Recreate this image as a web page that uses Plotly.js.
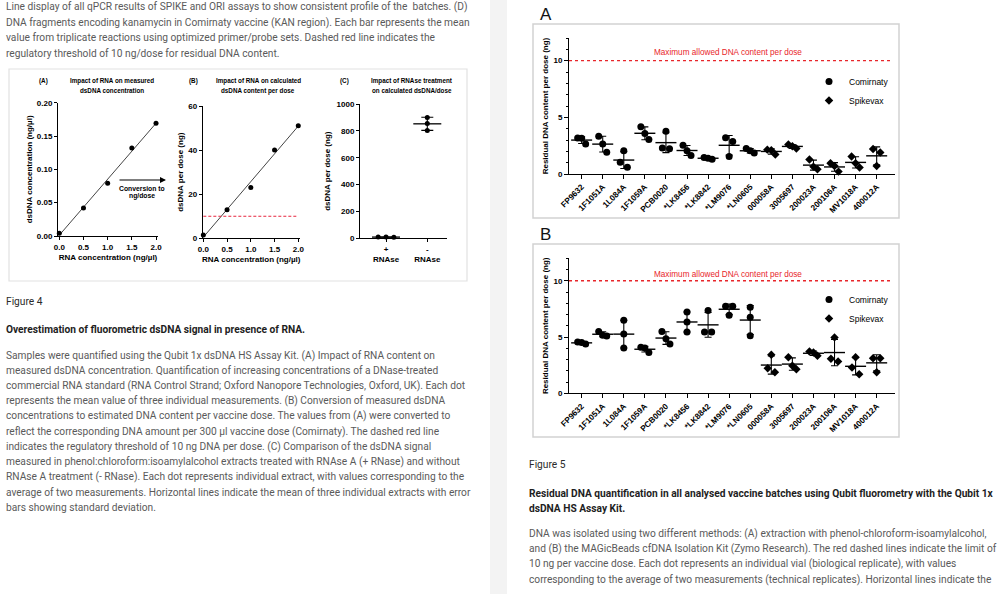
<!DOCTYPE html>
<html><head><meta charset="utf-8">
<script src="https://cdn.plot.ly/plotly-3.0.1.min.js"></script>
<style>html,body{margin:0;padding:0;background:#fff}#chart{width:1000px;height:594px}</style>
</head><body><div id="chart"></div>
<script>
// ---------------- data ----------------
const rnaConc = [0, 0.5, 1.0, 1.5, 2.0];
const dsdnaMeasured = [0.004, 0.042, 0.079, 0.132, 0.169];
const dsdnaPerDose = [1.5, 13, 23, 40, 51];
const rnaseLabels = ['+<br>RNAse', '-<br>RNAse'];
const rnasePlus = [9, 10, 8];
const rnaseMinus = [900, 855, 802];
const thresholdNg = 10;

const batches = ['FP9632','1F1051A','1L084A','1F1059A','PCB0020','*LK8456','*LK8842','*LM9076','*LN0605','000058A','3005697','200023A','200106A','MV1018A','400012A'];
const vaccine = ['Comirnaty','Comirnaty','Comirnaty','Comirnaty','Comirnaty','Comirnaty','Comirnaty','Comirnaty','Comirnaty','Spikevax','Spikevax','Spikevax','Spikevax','Spikevax','Spikevax'];
const residualA = [
  [3.18, 3.15, 2.65], [3.33, 2.65, 1.93], [2.05, 1.04, 0.60], [4.17, 3.57, 3.04], [3.78, 2.29, 2.23],
  [2.53, 2.05, 1.64], [1.46, 1.40, 1.31], [3.19, 2.86, 1.55], [2.25, 2.05, 1.85], [2.15, 2.10, 1.72],
  [2.60, 2.45, 2.25], [1.28, 0.65, 0.42], [0.95, 0.71, 0.21], [1.55, 0.95, 0.57], [2.20, 1.90, 0.71]
];
const residualB = [
  [4.55, 4.52, 4.38], [5.50, 5.15, 5.10], [6.49, 5.27, 4.02], [4.10, 4.02, 3.63], [5.50, 4.85, 4.38],
  [7.23, 6.34, 5.45], [7.35, 5.45, 5.45], [7.74, 7.74, 6.93], [7.65, 6.76, 5.12], [3.42, 2.23, 1.88],
  [3.21, 2.44, 2.14], [3.72, 3.63, 3.33], [4.97, 3.07, 2.83], [3.21, 2.29, 1.70], [3.12, 3.12, 1.88]
];

const textTop = [
  'Line display of all qPCR results of SPIKE and ORI assays to show consistent profile of the  batches. (D)',
  'DNA fragments encoding kanamycin in Comirnaty vaccine (KAN region). Each bar represents the mean',
  'value from triplicate reactions using optimized primer/probe sets. Dashed red line indicates the',
  'regulatory threshold of 10 ng/dose for residual DNA content.'
];
const fig4Label = 'Figure 4';
const fig4Title = 'Overestimation of fluorometric dsDNA signal in presence of RNA.';
const fig4Text = [
  'Samples were quantified using the Qubit 1x dsDNA HS Assay Kit. (A) Impact of RNA content on',
  'measured dsDNA concentration. Quantification of increasing concentrations of a DNase-treated',
  'commercial RNA standard (RNA Control Strand; Oxford Nanopore Technologies, Oxford, UK). Each dot',
  'represents the mean value of three individual measurements. (B) Conversion of measured dsDNA',
  'concentrations to estimated DNA content per vaccine dose. The values from (A) were converted to',
  'reflect the corresponding DNA amount per 300 µl vaccine dose (Comirnaty). The dashed red line',
  'indicates the regulatory threshold of 10 ng DNA per dose. (C) Comparison of the dsDNA signal',
  'measured in phenol:chloroform:isoamylalcohol extracts treated with RNAse A (+ RNase) and without',
  'RNAse A treatment (- RNase). Each dot represents individual extract, with values corresponding to the',
  'average of two measurements. Horizontal lines indicate the mean of three individual extracts with error',
  'bars showing standard deviation.'
];
const fig5Label = 'Figure 5';
const fig5Title = [
  'Residual DNA quantification in all analysed vaccine batches using Qubit fluorometry with the Qubit 1x',
  'dsDNA HS Assay Kit.'
];
const fig5Text = [
  'DNA was isolated using two different methods: (A) extraction with phenol-chloroform-isoamylalcohol,',
  'and (B) the MAGicBeads cfDNA Isolation Kit (Zymo Research). The red dashed lines indicate the limit of',
  '10 ng per vaccine dose. Each dot represents an individual vial (biological replicate), with values',
  'corresponding to the average of two measurements (technical replicates). Horizontal lines indicate the'
];

// ---------------- helpers ----------------
const AR = 'Liberation Sans, Arial, sans-serif';
const RB = 'Roboto, sans-serif';
const W = 1000, H = 594;
const px = x => x / W, py = y => 1 - y / H;
const mean = a => a.reduce((s, v) => s + v, 0) / a.length;
const sd = a => { const m = mean(a); return Math.sqrt(a.reduce((s, v) => s + (v - m) * (v - m), 0) / (a.length - 1)); };

// Prism-like horizontal spreading of overlapping points
function rowSpread(vals, thr, step2, step3) {
  const idx = vals.map((v, i) => i).sort((a, b) => vals[b] - vals[a]);
  const rows = []; let cur = [];
  idx.forEach((i, k) => {
    if (k > 0 && vals[idx[k - 1]] - vals[i] >= thr) { rows.push(cur); cur = []; }
    cur.push(i);
  });
  rows.push(cur);
  const off = new Array(vals.length).fill(0);
  rows.forEach(r => { const n = r.length; const s = n === 2 ? step2 : step3; r.forEach((i, k) => { off[i] = (k - (n - 1) / 2) * s; }); });
  return off;
}
function linFit(xs, ys) {
  const mx = mean(xs), my = mean(ys);
  let num = 0, den = 0;
  xs.forEach((x, i) => { num += (x - mx) * (ys[i] - my); den += (x - mx) * (x - mx); });
  const b = num / den; return { b, a: my - b * mx };
}

const tickF = s => ({ family: AR, size: s, color: '#000', weight: 'bold' });
function axis(o) {
  return Object.assign({ showgrid: false, zeroline: false, showline: true, linecolor: '#000', linewidth: 1,
    ticks: 'outside', ticklen: 3, tickwidth: 1, tickcolor: '#000', tickfont: tickF(8), fixedrange: true, automargin: false }, o);
}

// ---------------- traces ----------------
const traces = [];
const dot = (sz) => ({ symbol: 'circle', size: sz, color: '#000' });

// Panel A
const fitA = linFit(rnaConc, dsdnaMeasured);
const xEnds = [rnaConc[0], rnaConc[rnaConc.length - 1]];
traces.push({ type: 'scatter', mode: 'lines', x: xEnds, y: xEnds.map(x => fitA.a + fitA.b * x), xaxis: 'x', yaxis: 'y', line: { color: '#444', width: 1 }, showlegend: false, cliponaxis: false });
traces.push({ type: 'scatter', mode: 'markers', x: rnaConc, y: dsdnaMeasured, xaxis: 'x', yaxis: 'y', marker: dot(5), showlegend: false, cliponaxis: false });
// Panel B
const fitB = linFit(rnaConc, dsdnaPerDose);
traces.push({ type: 'scatter', mode: 'lines', x: xEnds, y: xEnds.map(x => fitB.a + fitB.b * x), xaxis: 'x2', yaxis: 'y2', line: { color: '#444', width: 1 }, showlegend: false, cliponaxis: false });
traces.push({ type: 'scatter', mode: 'markers', x: rnaConc, y: dsdnaPerDose, xaxis: 'x2', yaxis: 'y2', marker: dot(5), showlegend: false, cliponaxis: false });
// Panel C
const rnaseGroups = [rnasePlus, rnaseMinus];
const cx = [], cy = [];
rnaseGroups.forEach((g, gi) => { const off = rowSpread(g, 40, 0.34, 0.19); g.forEach((v, k) => { cx.push(gi + off[k]); cy.push(v); }); });
traces.push({ type: 'scatter', mode: 'markers', x: cx, y: cy, xaxis: 'x3', yaxis: 'y3', marker: dot(5), showlegend: false, cliponaxis: false });
traces.push({ type: 'scatter', mode: 'markers', x: [0, 1], y: rnaseGroups.map(mean), xaxis: 'x3', yaxis: 'y3', showlegend: false, cliponaxis: false,
  marker: { symbol: 'line-ew', size: 20, line: { width: 1.3, color: '#000' } },
  error_y: { type: 'data', array: rnaseGroups.map(sd), visible: true, width: 6, thickness: 1.1, color: '#000' } });

// Right charts
function residualTraces(groups, xa, ya, legendId) {
  ['Comirnaty', 'Spikevax'].forEach((vname, vi) => {
    const xs = [], ys = [];
    groups.forEach((g, gi) => {
      if (vaccine[gi] !== vname) return;
      const off = rowSpread(g, 0.8, 0.34, 0.19);
      g.forEach((v, k) => { xs.push(gi + off[k]); ys.push(v); });
    });
    traces.push({ type: 'scatter', mode: 'markers', name: vname, x: xs, y: ys, xaxis: xa, yaxis: ya, legend: legendId,
      showlegend: true, cliponaxis: false, marker: { symbol: vi ? 'diamond' : 'circle', size: vi ? 6.5 : 7, color: '#000' } });
  });
  traces.push({ type: 'scatter', mode: 'markers', x: batches.map((b, i) => i), y: groups.map(mean), xaxis: xa, yaxis: ya,
    showlegend: false, cliponaxis: false,
    marker: { symbol: 'line-ew', size: 15, line: { width: 1.4, color: '#000' } },
    error_y: { type: 'data', array: groups.map(sd), visible: true, width: 3.5, thickness: 1.1, color: '#000' } });
}
residualTraces(residualA, 'x4', 'y4', 'legend');
residualTraces(residualB, 'x5', 'y5', 'legend2');

// ---------------- annotations ----------------
const ann = [];
function txt(x, y, text, o) {
  ann.push(Object.assign({ xref: 'paper', yref: 'paper', x: px(x), y: py(y), text, showarrow: false,
    xanchor: 'left', yanchor: 'middle', font: { family: RB, size: 10.2, color: '#5a5a5a' } }, o || {}));
}
textTop.forEach((t, i) => txt(4, 7.3 + i * 15.3, t));
txt(4, 301, fig4Label, { font: { family: RB, size: 10.2, color: '#2a2a2a' } });
txt(4, 329, '<b>' + fig4Title + '</b>', { font: { family: RB, size: 10.2, color: '#1e1e1e' } });
fig4Text.forEach((t, i) => txt(4, 355.7 + i * 15.2, t));
txt(527, 464, fig5Label, { font: { family: RB, size: 10.2, color: '#2a2a2a' } });
fig5Title.forEach((t, i) => txt(527, 493 + i * 15.2, '<b>' + t + '</b>', { font: { family: RB, size: 10.2, color: '#1e1e1e' } }));
fig5Text.forEach((t, i) => txt(527, 534 + i * 15.2, t));

const pf = { family: AR, size: 6.3, color: '#000' };
const c = { xanchor: 'center', font: pf };
txt(43, 81, '<b>(A)</b>', c);
txt(112, 81, '<b>Impact of RNA on measured</b>', c);
txt(112, 90.5, '<b>dsDNA concentration</b>', c);
txt(193.5, 81, '<b>(B)</b>', c);
txt(258, 81, '<b>Impact of RNA on calculated</b>', c);
txt(258, 90.5, '<b>dsDNA content per dose</b>', c);
txt(344, 81, '<b>(C)</b>', c);
txt(411.7, 81, '<b>Impact of RNAse treatment</b>', c);
txt(411.7, 90.5, '<b>on calculated dsDNA/dose</b>', c);
txt(142, 188, '<b>Conversion to</b>', { xanchor: 'center', font: { family: AR, size: 6.8, color: '#000' } });
txt(142, 196, '<b>ng/dose</b>', { xanchor: 'center', font: { family: AR, size: 6.8, color: '#000' } });
ann.push({ xref: 'paper', yref: 'paper', x: px(166), y: py(180), ax: -48, ay: 0, text: '', showarrow: true,
  arrowhead: 2, arrowsize: 1, arrowwidth: 1.2, arrowcolor: '#000' });

const redF = { family: AR, size: 8.2, color: '#e8262b' };
txt(728, 53, 'Maximum allowed DNA content per dose', { xanchor: 'center', font: redF });
txt(728, 274, 'Maximum allowed DNA content per dose', { xanchor: 'center', font: redF });
txt(538, 14, 'A', { font: { family: AR, size: 17, color: '#111' } });
txt(538, 234, 'B', { font: { family: AR, size: 17, color: '#111' } });

// ---------------- shapes ----------------
const shapes = [
  { type: 'rect', xref: 'paper', yref: 'paper', x0: px(490), x1: px(507), y0: 0, y1: 1, fillcolor: '#f3f3f3', line: { width: 0 }, layer: 'below' },
  { type: 'rect', xref: 'paper', yref: 'paper', x0: px(9), x1: px(467), y0: py(281), y1: py(69), line: { color: '#e2e2e2', width: 1.2 } },
  { type: 'rect', xref: 'paper', yref: 'paper', x0: px(533), x1: px(899), y0: py(218), y1: py(24), line: { color: '#d2d2d2', width: 1.5 } },
  { type: 'rect', xref: 'paper', yref: 'paper', x0: px(533), x1: px(899), y0: py(437), y1: py(244), line: { color: '#d2d2d2', width: 1.5 } },
  { type: 'line', xref: 'x2', yref: 'y2', x0: xEnds[0], x1: xEnds[1], y0: thresholdNg, y1: thresholdNg, line: { color: '#e8263f', width: 1.2, dash: '3px,2px' } },
  { type: 'line', xref: 'x4 domain', yref: 'y4', x0: 0, x1: 0.99, y0: thresholdNg, y1: thresholdNg, line: { color: '#e8262b', width: 1.4, dash: '3px,3px' } },
  { type: 'line', xref: 'x5 domain', yref: 'y5', x0: 0, x1: 0.99, y0: thresholdNg, y1: thresholdNg, line: { color: '#e8262b', width: 1.4, dash: '3px,3px' } }
];

const axTitle = (t, s, so) => ({ text: t, font: { family: AR, size: s, color: '#000', weight: 'bold' }, standoff: so });
const rightY = (top, bot) => axis({ domain: [py(bot), py(top)], range: [0, 12], tickmode: 'linear', tick0: 0, dtick: 5, ticklen: 4,
  tickfont: tickF(8), minor: { dtick: 1, ticks: 'outside', ticklen: 2.5, tickwidth: 1, tickcolor: '#000' },
  title: axTitle('Residual DNA content per dose (ng)', 8, 3) });
const rightX = () => axis({ domain: [px(569), px(895)], range: [-0.6, 14.87], tickmode: 'array', tickvals: batches.map((b, i) => i),
  ticktext: batches, tickangle: -45, ticklen: 4, tickfont: tickF(8.2) });

const legendBase = (top) => ({ x: px(809), y: py(top), xanchor: 'left', yanchor: 'top', bgcolor: 'rgba(0,0,0,0)',
  font: { family: AR, size: 8.5, color: '#000' }, itemwidth: 30, tracegroupgap: 0 });

const layout = {
  width: W, height: H, autosize: false, margin: { l: 0, r: 0, t: 0, b: 0 },
  paper_bgcolor: '#fff', plot_bgcolor: 'rgba(0,0,0,0)',
  xaxis: axis({ domain: [px(58), px(158)], range: [-0.027, 2.041], anchor: 'y', tickvals: rnaConc, tickformat: '.1f',
    title: axTitle('RNA concentration (ng/µl)', 8, 3) }),
  yaxis: axis({ domain: [py(236), py(102.7)], range: [0, 0.2], anchor: 'x', tickvals: [0, 0.05, 0.1, 0.15, 0.2], tickformat: '.2f',
    title: axTitle('dsDNA concentration (ng/µl)', 8, 3) }),
  xaxis2: axis({ domain: [px(202.7), px(299.7)], range: [-0.013, 2.03], anchor: 'y2', tickvals: rnaConc, tickformat: '.1f',
    title: axTitle('RNA concentration (ng/µl)', 8, 3) }),
  yaxis2: axis({ domain: [py(238.3), py(106)], range: [0, 60], anchor: 'x2', tickvals: [0, 20, 40, 60],
    title: axTitle('dsDNA per dose (ng)', 8, 3) }),
  xaxis3: axis({ domain: [px(360), px(446.7)], range: [-0.63, 1.47], anchor: 'y3', tickvals: [0, 1], ticktext: rnaseLabels, tickfont: tickF(8) }),
  yaxis3: axis({ domain: [py(238.3), py(104)], range: [0, 1000], anchor: 'x3', tickvals: [0, 200, 400, 600, 800, 1000],
    title: axTitle('dsDNA per dose (ng)', 8, 4) }),
  xaxis4: Object.assign(rightX(), { anchor: 'y4' }),
  yaxis4: Object.assign(rightY(38, 174), { anchor: 'x4' }),
  xaxis5: Object.assign(rightX(), { anchor: 'y5' }),
  yaxis5: Object.assign(rightY(258.3, 393.3), { anchor: 'x5' }),
  legend: legendBase(67),
  legend2: legendBase(285),
  annotations: ann,
  shapes: shapes
};

Plotly.newPlot('chart', traces, layout, { displayModeBar: false, staticPlot: true });
</script>
</body></html>
